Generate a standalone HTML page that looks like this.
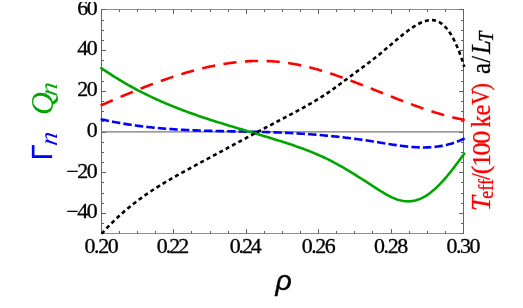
<!DOCTYPE html>
<html><head><meta charset="utf-8"><title>plot</title>
<style>
html,body{margin:0;padding:0;background:#fff;}
body{width:523px;height:308px;overflow:hidden;font-family:"Liberation Serif",serif;}
svg{display:block;will-change:transform}
.tk line{stroke:#606060;stroke-width:1}
.lab text{font-family:"Liberation Serif",serif;font-size:20.3px;letter-spacing:-1.3px;fill:#000;stroke:#000;stroke-width:0.3px}
</style></head><body>
<svg width="523" height="308" viewBox="0 0 523 308">
<rect width="523" height="308" fill="#fff"/>
<g stroke-width="1" fill="none"><path d="M101.0,9.5H464.0M101.0,233.5H464.0" stroke="#8c8c8c"/><path d="M101.5,9.0V234.0M463.5,9.0V234.0" stroke="#666666"/></g>
<g class="tk">
<line x1="101.5" y1="233.5" x2="101.5" y2="229.1"/>
<line x1="101.5" y1="9.5" x2="101.5" y2="13.9"/>
<line x1="119.5" y1="233.5" x2="119.5" y2="231.0"/>
<line x1="119.5" y1="9.5" x2="119.5" y2="12.0"/>
<line x1="137.5" y1="233.5" x2="137.5" y2="231.0"/>
<line x1="137.5" y1="9.5" x2="137.5" y2="12.0"/>
<line x1="155.5" y1="233.5" x2="155.5" y2="231.0"/>
<line x1="155.5" y1="9.5" x2="155.5" y2="12.0"/>
<line x1="173.5" y1="233.5" x2="173.5" y2="229.1"/>
<line x1="173.5" y1="9.5" x2="173.5" y2="13.9"/>
<line x1="191.5" y1="233.5" x2="191.5" y2="231.0"/>
<line x1="191.5" y1="9.5" x2="191.5" y2="12.0"/>
<line x1="210.5" y1="233.5" x2="210.5" y2="231.0"/>
<line x1="210.5" y1="9.5" x2="210.5" y2="12.0"/>
<line x1="228.5" y1="233.5" x2="228.5" y2="231.0"/>
<line x1="228.5" y1="9.5" x2="228.5" y2="12.0"/>
<line x1="246.5" y1="233.5" x2="246.5" y2="229.1"/>
<line x1="246.5" y1="9.5" x2="246.5" y2="13.9"/>
<line x1="264.5" y1="233.5" x2="264.5" y2="231.0"/>
<line x1="264.5" y1="9.5" x2="264.5" y2="12.0"/>
<line x1="282.5" y1="233.5" x2="282.5" y2="231.0"/>
<line x1="282.5" y1="9.5" x2="282.5" y2="12.0"/>
<line x1="300.5" y1="233.5" x2="300.5" y2="231.0"/>
<line x1="300.5" y1="9.5" x2="300.5" y2="12.0"/>
<line x1="318.5" y1="233.5" x2="318.5" y2="229.1"/>
<line x1="318.5" y1="9.5" x2="318.5" y2="13.9"/>
<line x1="336.5" y1="233.5" x2="336.5" y2="231.0"/>
<line x1="336.5" y1="9.5" x2="336.5" y2="12.0"/>
<line x1="354.5" y1="233.5" x2="354.5" y2="231.0"/>
<line x1="354.5" y1="9.5" x2="354.5" y2="12.0"/>
<line x1="372.5" y1="233.5" x2="372.5" y2="231.0"/>
<line x1="372.5" y1="9.5" x2="372.5" y2="12.0"/>
<line x1="391.5" y1="233.5" x2="391.5" y2="229.1"/>
<line x1="391.5" y1="9.5" x2="391.5" y2="13.9"/>
<line x1="409.5" y1="233.5" x2="409.5" y2="231.0"/>
<line x1="409.5" y1="9.5" x2="409.5" y2="12.0"/>
<line x1="427.5" y1="233.5" x2="427.5" y2="231.0"/>
<line x1="427.5" y1="9.5" x2="427.5" y2="12.0"/>
<line x1="445.5" y1="233.5" x2="445.5" y2="231.0"/>
<line x1="445.5" y1="9.5" x2="445.5" y2="12.0"/>
<line x1="463.5" y1="233.5" x2="463.5" y2="229.1"/>
<line x1="463.5" y1="9.5" x2="463.5" y2="13.9"/>
<line x1="101.5" y1="233.5" x2="104.0" y2="233.5"/>
<line x1="463.5" y1="233.5" x2="461.0" y2="233.5"/>
<line x1="101.5" y1="223.5" x2="104.0" y2="223.5"/>
<line x1="463.5" y1="223.5" x2="461.0" y2="223.5"/>
<line x1="101.5" y1="213.5" x2="105.9" y2="213.5"/>
<line x1="463.5" y1="213.5" x2="459.1" y2="213.5"/>
<line x1="101.5" y1="203.5" x2="104.0" y2="203.5"/>
<line x1="463.5" y1="203.5" x2="461.0" y2="203.5"/>
<line x1="101.5" y1="193.5" x2="104.0" y2="193.5"/>
<line x1="463.5" y1="193.5" x2="461.0" y2="193.5"/>
<line x1="101.5" y1="182.5" x2="104.0" y2="182.5"/>
<line x1="463.5" y1="182.5" x2="461.0" y2="182.5"/>
<line x1="101.5" y1="172.5" x2="105.9" y2="172.5"/>
<line x1="463.5" y1="172.5" x2="459.1" y2="172.5"/>
<line x1="101.5" y1="162.5" x2="104.0" y2="162.5"/>
<line x1="463.5" y1="162.5" x2="461.0" y2="162.5"/>
<line x1="101.5" y1="152.5" x2="104.0" y2="152.5"/>
<line x1="463.5" y1="152.5" x2="461.0" y2="152.5"/>
<line x1="101.5" y1="142.5" x2="104.0" y2="142.5"/>
<line x1="463.5" y1="142.5" x2="461.0" y2="142.5"/>
<line x1="101.5" y1="132.5" x2="105.9" y2="132.5"/>
<line x1="463.5" y1="132.5" x2="459.1" y2="132.5"/>
<line x1="101.5" y1="121.5" x2="104.0" y2="121.5"/>
<line x1="463.5" y1="121.5" x2="461.0" y2="121.5"/>
<line x1="101.5" y1="111.5" x2="104.0" y2="111.5"/>
<line x1="463.5" y1="111.5" x2="461.0" y2="111.5"/>
<line x1="101.5" y1="101.5" x2="104.0" y2="101.5"/>
<line x1="463.5" y1="101.5" x2="461.0" y2="101.5"/>
<line x1="101.5" y1="91.5" x2="105.9" y2="91.5"/>
<line x1="463.5" y1="91.5" x2="459.1" y2="91.5"/>
<line x1="101.5" y1="81.5" x2="104.0" y2="81.5"/>
<line x1="463.5" y1="81.5" x2="461.0" y2="81.5"/>
<line x1="101.5" y1="70.5" x2="104.0" y2="70.5"/>
<line x1="463.5" y1="70.5" x2="461.0" y2="70.5"/>
<line x1="101.5" y1="60.5" x2="104.0" y2="60.5"/>
<line x1="463.5" y1="60.5" x2="461.0" y2="60.5"/>
<line x1="101.5" y1="50.5" x2="105.9" y2="50.5"/>
<line x1="463.5" y1="50.5" x2="459.1" y2="50.5"/>
<line x1="101.5" y1="40.5" x2="104.0" y2="40.5"/>
<line x1="463.5" y1="40.5" x2="461.0" y2="40.5"/>
<line x1="101.5" y1="30.5" x2="104.0" y2="30.5"/>
<line x1="463.5" y1="30.5" x2="461.0" y2="30.5"/>
<line x1="101.5" y1="20.5" x2="104.0" y2="20.5"/>
<line x1="463.5" y1="20.5" x2="461.0" y2="20.5"/>
<line x1="101.5" y1="9.5" x2="105.9" y2="9.5"/>
<line x1="463.5" y1="9.5" x2="459.1" y2="9.5"/>
</g>
<line x1="101.5" y1="131.95999999999998" x2="463.4" y2="131.95999999999998" stroke="#777" stroke-width="1.25"/>
<g fill="none" stroke-linejoin="round">
<path d="M100.40,119.06 L101.92,119.41 L103.45,119.76 L104.97,120.10 L106.50,120.43 L108.02,120.75 L109.55,121.07 L111.07,121.38 L112.60,121.68 L114.12,121.98 L115.65,122.27 L117.17,122.56 L118.70,122.83 L120.22,123.11 L121.75,123.37 L123.27,123.63 L124.79,123.88 L126.32,124.13 L127.84,124.37 L129.37,124.61 L130.89,124.83 L132.42,125.06 L133.94,125.28 L135.47,125.49 L136.99,125.70 L138.52,125.90 L140.04,126.09 L141.57,126.29 L143.09,126.47 L144.62,126.65 L146.14,126.83 L147.67,127.00 L149.19,127.17 L150.71,127.33 L152.24,127.49 L153.76,127.64 L155.29,127.79 L156.81,127.93 L158.34,128.07 L159.86,128.21 L161.39,128.34 L162.91,128.47 L164.44,128.59 L165.96,128.71 L167.49,128.83 L169.01,128.94 L170.54,129.05 L172.06,129.15 L173.58,129.25 L175.11,129.35 L176.63,129.45 L178.16,129.54 L179.68,129.62 L181.21,129.71 L182.73,129.79 L184.26,129.87 L185.78,129.95 L187.31,130.02 L188.83,130.09 L190.36,130.16 L191.88,130.23 L193.41,130.29 L194.93,130.35 L196.46,130.41 L197.98,130.47 L199.50,130.52 L201.03,130.58 L202.55,130.63 L204.08,130.68 L205.60,130.72 L207.13,130.77 L208.65,130.81 L210.18,130.85 L211.70,130.90 L213.23,130.94 L214.75,130.97 L216.28,131.01 L217.80,131.05 L219.33,131.08 L220.85,131.12 L222.37,131.15 L223.90,131.18 L225.42,131.21 L226.95,131.24 L228.47,131.28 L230.00,131.31 L231.52,131.33 L233.05,131.36 L234.57,131.39 L236.10,131.42 L237.62,131.45 L239.15,131.48 L240.67,131.51 L242.20,131.54 L243.72,131.57 L245.25,131.60 L246.77,131.63 L248.29,131.66 L249.82,131.69 L251.34,131.72 L252.87,131.76 L254.39,131.79 L255.92,131.83 L257.44,131.86 L258.97,131.90 L260.49,131.94 L262.02,131.98 L263.54,132.02 L265.07,132.06 L266.59,132.10 L268.12,132.15 L269.64,132.19 L271.16,132.24 L272.69,132.29 L274.21,132.34 L275.74,132.40 L277.26,132.45 L278.79,132.51 L280.31,132.57 L281.84,132.64 L283.36,132.70 L284.89,132.77 L286.41,132.84 L287.94,132.91 L289.46,132.99 L290.99,133.07 L292.51,133.15 L294.04,133.23 L295.56,133.32 L297.08,133.40 L298.61,133.49 L300.13,133.59 L301.66,133.68 L303.18,133.78 L304.71,133.88 L306.23,133.99 L307.76,134.10 L309.28,134.20 L310.81,134.32 L312.33,134.43 L313.86,134.55 L315.38,134.67 L316.91,134.79 L318.43,134.92 L319.95,135.05 L321.48,135.18 L323.00,135.32 L324.53,135.45 L326.05,135.59 L327.58,135.74 L329.10,135.88 L330.63,136.03 L332.15,136.19 L333.68,136.34 L335.20,136.50 L336.73,136.66 L338.25,136.82 L339.78,136.99 L341.30,137.16 L342.83,137.34 L344.35,137.51 L345.87,137.69 L347.40,137.87 L348.92,138.06 L350.45,138.25 L351.97,138.44 L353.50,138.64 L355.02,138.84 L356.55,139.04 L358.07,139.24 L359.60,139.45 L361.12,139.66 L362.65,139.88 L364.17,140.09 L365.70,140.32 L367.22,140.54 L368.74,140.77 L370.27,141.00 L371.79,141.23 L373.32,141.47 L374.84,141.71 L376.37,141.96 L377.89,142.21 L379.42,142.46 L380.94,142.71 L382.47,142.96 L383.99,143.21 L385.52,143.46 L387.04,143.71 L388.57,143.96 L390.09,144.20 L391.62,144.44 L393.14,144.68 L394.66,144.91 L396.19,145.13 L397.71,145.35 L399.24,145.57 L400.76,145.77 L402.29,145.97 L403.81,146.16 L405.34,146.33 L406.86,146.50 L408.39,146.66 L409.91,146.80 L411.44,146.93 L412.96,147.05 L414.49,147.16 L416.01,147.25 L417.53,147.32 L419.06,147.38 L420.58,147.42 L422.11,147.44 L423.63,147.45 L425.16,147.44 L426.68,147.41 L428.21,147.35 L429.73,147.28 L431.26,147.19 L432.78,147.07 L434.31,146.93 L435.83,146.77 L437.36,146.58 L438.88,146.37 L440.41,146.13 L441.93,145.86 L443.45,145.57 L444.98,145.25 L446.50,144.90 L448.03,144.52 L449.55,144.11 L451.08,143.68 L452.60,143.21 L454.13,142.71 L455.65,142.17 L457.18,141.60 L458.70,141.00 L460.23,140.37 L461.75,139.69 L463.28,138.99 L464.80,138.24" stroke="#0000ff" stroke-width="2.6" stroke-dasharray="8.43 3.14" stroke-dashoffset="-0.3"/>
<path d="M100.40,67.39 L101.92,68.46 L103.45,69.52 L104.97,70.56 L106.50,71.59 L108.02,72.61 L109.55,73.62 L111.07,74.61 L112.60,75.59 L114.12,76.56 L115.65,77.52 L117.17,78.47 L118.70,79.40 L120.22,80.33 L121.75,81.24 L123.27,82.15 L124.79,83.04 L126.32,83.92 L127.84,84.79 L129.37,85.65 L130.89,86.50 L132.42,87.34 L133.94,88.17 L135.47,88.99 L136.99,89.79 L138.52,90.59 L140.04,91.38 L141.57,92.17 L143.09,92.94 L144.62,93.70 L146.14,94.45 L147.67,95.20 L149.19,95.93 L150.71,96.66 L152.24,97.38 L153.76,98.09 L155.29,98.79 L156.81,99.49 L158.34,100.17 L159.86,100.85 L161.39,101.52 L162.91,102.18 L164.44,102.84 L165.96,103.49 L167.49,104.13 L169.01,104.76 L170.54,105.39 L172.06,106.01 L173.58,106.63 L175.11,107.23 L176.63,107.83 L178.16,108.43 L179.68,109.02 L181.21,109.60 L182.73,110.18 L184.26,110.75 L185.78,111.32 L187.31,111.88 L188.83,112.43 L190.36,112.98 L191.88,113.53 L193.41,114.07 L194.93,114.60 L196.46,115.13 L197.98,115.66 L199.50,116.18 L201.03,116.70 L202.55,117.21 L204.08,117.72 L205.60,118.23 L207.13,118.73 L208.65,119.23 L210.18,119.72 L211.70,120.22 L213.23,120.70 L214.75,121.19 L216.28,121.67 L217.80,122.15 L219.33,122.63 L220.85,123.11 L222.37,123.58 L223.90,124.05 L225.42,124.52 L226.95,124.98 L228.47,125.45 L230.00,125.91 L231.52,126.37 L233.05,126.83 L234.57,127.29 L236.10,127.75 L237.62,128.20 L239.15,128.66 L240.67,129.11 L242.20,129.57 L243.72,130.02 L245.25,130.47 L246.77,130.93 L248.29,131.38 L249.82,131.83 L251.34,132.29 L252.87,132.74 L254.39,133.19 L255.92,133.65 L257.44,134.10 L258.97,134.56 L260.49,135.01 L262.02,135.47 L263.54,135.93 L265.07,136.39 L266.59,136.85 L268.12,137.32 L269.64,137.78 L271.16,138.25 L272.69,138.72 L274.21,139.19 L275.74,139.66 L277.26,140.14 L278.79,140.62 L280.31,141.10 L281.84,141.59 L283.36,142.07 L284.89,142.56 L286.41,143.06 L287.94,143.55 L289.46,144.06 L290.99,144.56 L292.51,145.08 L294.04,145.59 L295.56,146.12 L297.08,146.65 L298.61,147.18 L300.13,147.73 L301.66,148.28 L303.18,148.84 L304.71,149.40 L306.23,149.98 L307.76,150.56 L309.28,151.16 L310.81,151.76 L312.33,152.38 L313.86,153.00 L315.38,153.64 L316.91,154.29 L318.43,154.95 L319.95,155.62 L321.48,156.31 L323.00,157.00 L324.53,157.72 L326.05,158.44 L327.58,159.18 L329.10,159.94 L330.63,160.71 L332.15,161.49 L333.68,162.29 L335.20,163.10 L336.73,163.93 L338.25,164.77 L339.78,165.62 L341.30,166.48 L342.83,167.35 L344.35,168.24 L345.87,169.13 L347.40,170.03 L348.92,170.95 L350.45,171.87 L351.97,172.80 L353.50,173.73 L355.02,174.68 L356.55,175.63 L358.07,176.58 L359.60,177.54 L361.12,178.51 L362.65,179.48 L364.17,180.46 L365.70,181.44 L367.22,182.42 L368.74,183.40 L370.27,184.39 L371.79,185.37 L373.32,186.36 L374.84,187.35 L376.37,188.34 L377.89,189.32 L379.42,190.30 L380.94,191.26 L382.47,192.20 L383.99,193.12 L385.52,194.02 L387.04,194.88 L388.57,195.71 L390.09,196.49 L391.62,197.23 L393.14,197.92 L394.66,198.56 L396.19,199.14 L397.71,199.66 L399.24,200.11 L400.76,200.49 L402.29,200.81 L403.81,201.05 L405.34,201.22 L406.86,201.31 L408.39,201.33 L409.91,201.28 L411.44,201.15 L412.96,200.94 L414.49,200.65 L416.01,200.27 L417.53,199.82 L419.06,199.28 L420.58,198.66 L422.11,197.95 L423.63,197.16 L425.16,196.29 L426.68,195.34 L428.21,194.31 L429.73,193.20 L431.26,192.03 L432.78,190.78 L434.31,189.47 L435.83,188.09 L437.36,186.65 L438.88,185.15 L440.41,183.59 L441.93,181.97 L443.45,180.30 L444.98,178.58 L446.50,176.81 L448.03,175.00 L449.55,173.14 L451.08,171.24 L452.60,169.30 L454.13,167.33 L455.65,165.32 L457.18,163.29 L458.70,161.23 L460.23,159.14 L461.75,157.04 L463.28,154.91 L464.80,152.77" stroke="#00a600" stroke-width="2.6"/>
<path d="M100.40,105.64 L101.92,104.97 L103.45,104.30 L104.97,103.63 L106.50,102.96 L108.02,102.30 L109.55,101.64 L111.07,100.97 L112.60,100.31 L114.12,99.66 L115.65,99.00 L117.17,98.35 L118.70,97.70 L120.22,97.05 L121.75,96.40 L123.27,95.76 L124.79,95.12 L126.32,94.48 L127.84,93.84 L129.37,93.21 L130.89,92.58 L132.42,91.95 L133.94,91.33 L135.47,90.71 L136.99,90.09 L138.52,89.48 L140.04,88.87 L141.57,88.27 L143.09,87.67 L144.62,87.07 L146.14,86.48 L147.67,85.89 L149.19,85.30 L150.71,84.72 L152.24,84.14 L153.76,83.57 L155.29,83.01 L156.81,82.44 L158.34,81.89 L159.86,81.34 L161.39,80.79 L162.91,80.25 L164.44,79.71 L165.96,79.18 L167.49,78.65 L169.01,78.13 L170.54,77.62 L172.06,77.11 L173.58,76.61 L175.11,76.11 L176.63,75.62 L178.16,75.13 L179.68,74.65 L181.21,74.18 L182.73,73.72 L184.26,73.26 L185.78,72.81 L187.31,72.36 L188.83,71.92 L190.36,71.49 L191.88,71.07 L193.41,70.65 L194.93,70.24 L196.46,69.83 L197.98,69.44 L199.50,69.05 L201.03,68.67 L202.55,68.30 L204.08,67.94 L205.60,67.58 L207.13,67.23 L208.65,66.89 L210.18,66.56 L211.70,66.24 L213.23,65.92 L214.75,65.61 L216.28,65.32 L217.80,65.03 L219.33,64.75 L220.85,64.48 L222.37,64.21 L223.90,63.96 L225.42,63.72 L226.95,63.48 L228.47,63.26 L230.00,63.05 L231.52,62.84 L233.05,62.64 L234.57,62.46 L236.10,62.28 L237.62,62.12 L239.15,61.96 L240.67,61.82 L242.20,61.68 L243.72,61.56 L245.25,61.45 L246.77,61.34 L248.29,61.25 L249.82,61.17 L251.34,61.10 L252.87,61.04 L254.39,60.99 L255.92,60.96 L257.44,60.93 L258.97,60.92 L260.49,60.91 L262.02,60.92 L263.54,60.95 L265.07,60.98 L266.59,61.02 L268.12,61.08 L269.64,61.15 L271.16,61.23 L272.69,61.33 L274.21,61.43 L275.74,61.55 L277.26,61.69 L278.79,61.83 L280.31,61.99 L281.84,62.16 L283.36,62.34 L284.89,62.54 L286.41,62.75 L287.94,62.97 L289.46,63.21 L290.99,63.46 L292.51,63.72 L294.04,63.99 L295.56,64.27 L297.08,64.57 L298.61,64.87 L300.13,65.19 L301.66,65.52 L303.18,65.86 L304.71,66.21 L306.23,66.57 L307.76,66.94 L309.28,67.32 L310.81,67.71 L312.33,68.11 L313.86,68.52 L315.38,68.94 L316.91,69.36 L318.43,69.80 L319.95,70.24 L321.48,70.69 L323.00,71.15 L324.53,71.62 L326.05,72.09 L327.58,72.57 L329.10,73.06 L330.63,73.56 L332.15,74.06 L333.68,74.57 L335.20,75.09 L336.73,75.61 L338.25,76.14 L339.78,76.67 L341.30,77.21 L342.83,77.76 L344.35,78.31 L345.87,78.86 L347.40,79.42 L348.92,79.98 L350.45,80.55 L351.97,81.12 L353.50,81.70 L355.02,82.28 L356.55,82.86 L358.07,83.44 L359.60,84.03 L361.12,84.62 L362.65,85.22 L364.17,85.81 L365.70,86.41 L367.22,87.01 L368.74,87.62 L370.27,88.22 L371.79,88.82 L373.32,89.43 L374.84,90.04 L376.37,90.65 L377.89,91.25 L379.42,91.86 L380.94,92.47 L382.47,93.08 L383.99,93.69 L385.52,94.30 L387.04,94.90 L388.57,95.51 L390.09,96.11 L391.62,96.72 L393.14,97.32 L394.66,97.92 L396.19,98.52 L397.71,99.11 L399.24,99.70 L400.76,100.30 L402.29,100.88 L403.81,101.47 L405.34,102.05 L406.86,102.63 L408.39,103.20 L409.91,103.77 L411.44,104.34 L412.96,104.90 L414.49,105.46 L416.01,106.01 L417.53,106.56 L419.06,107.10 L420.58,107.64 L422.11,108.17 L423.63,108.69 L425.16,109.21 L426.68,109.73 L428.21,110.24 L429.73,110.74 L431.26,111.23 L432.78,111.72 L434.31,112.20 L435.83,112.67 L437.36,113.13 L438.88,113.59 L440.41,114.04 L441.93,114.48 L443.45,114.91 L444.98,115.33 L446.50,115.75 L448.03,116.15 L449.55,116.55 L451.08,116.94 L452.60,117.31 L454.13,117.68 L455.65,118.04 L457.18,118.38 L458.70,118.72 L460.23,119.04 L461.75,119.36 L463.28,119.66 L464.80,119.95" stroke="#ff0000" stroke-width="2.6" stroke-dasharray="13.2 8.45" stroke-dashoffset="-0.35"/>
<path d="M101.60,233.75 L103.12,232.07 L104.64,230.43 L106.15,228.81 L107.67,227.21 L109.19,225.65 L110.71,224.11 L112.22,222.59 L113.74,221.10 L115.26,219.64 L116.78,218.20 L118.29,216.79 L119.81,215.39 L121.33,214.02 L122.85,212.68 L124.36,211.35 L125.88,210.05 L127.40,208.77 L128.92,207.51 L130.43,206.27 L131.95,205.05 L133.47,203.84 L134.99,202.66 L136.50,201.50 L138.02,200.35 L139.54,199.22 L141.06,198.11 L142.57,197.01 L144.09,195.93 L145.61,194.86 L147.13,193.81 L148.64,192.78 L150.16,191.75 L151.68,190.74 L153.20,189.75 L154.72,188.77 L156.23,187.79 L157.75,186.83 L159.27,185.89 L160.79,184.95 L162.30,184.02 L163.82,183.10 L165.34,182.20 L166.86,181.30 L168.37,180.40 L169.89,179.52 L171.41,178.64 L172.93,177.77 L174.44,176.91 L175.96,176.05 L177.48,175.20 L179.00,174.36 L180.51,173.51 L182.03,172.68 L183.55,171.84 L185.07,171.01 L186.58,170.18 L188.10,169.35 L189.62,168.53 L191.14,167.70 L192.65,166.88 L194.17,166.06 L195.69,165.23 L197.21,164.41 L198.72,163.59 L200.24,162.77 L201.76,161.94 L203.28,161.12 L204.79,160.30 L206.31,159.48 L207.83,158.66 L209.35,157.84 L210.87,157.02 L212.38,156.20 L213.90,155.38 L215.42,154.56 L216.94,153.74 L218.45,152.92 L219.97,152.10 L221.49,151.28 L223.01,150.47 L224.52,149.65 L226.04,148.83 L227.56,148.02 L229.08,147.20 L230.59,146.38 L232.11,145.57 L233.63,144.75 L235.15,143.94 L236.66,143.12 L238.18,142.31 L239.70,141.50 L241.22,140.68 L242.73,139.87 L244.25,139.06 L245.77,138.25 L247.29,137.44 L248.80,136.63 L250.32,135.82 L251.84,135.01 L253.36,134.20 L254.87,133.39 L256.39,132.58 L257.91,131.77 L259.43,130.97 L260.95,130.16 L262.46,129.35 L263.98,128.55 L265.50,127.74 L267.02,126.94 L268.53,126.13 L270.05,125.33 L271.57,124.53 L273.09,123.73 L274.60,122.92 L276.12,122.12 L277.64,121.32 L279.16,120.52 L280.67,119.72 L282.19,118.93 L283.71,118.13 L285.23,117.33 L286.74,116.53 L288.26,115.74 L289.78,114.94 L291.30,114.14 L292.81,113.33 L294.33,112.53 L295.85,111.72 L297.37,110.90 L298.88,110.09 L300.40,109.26 L301.92,108.43 L303.44,107.60 L304.95,106.76 L306.47,105.91 L307.99,105.05 L309.51,104.18 L311.03,103.30 L312.54,102.42 L314.06,101.52 L315.58,100.61 L317.10,99.69 L318.61,98.76 L320.13,97.81 L321.65,96.86 L323.17,95.88 L324.68,94.90 L326.20,93.89 L327.72,92.87 L329.24,91.84 L330.75,90.79 L332.27,89.72 L333.79,88.64 L335.31,87.55 L336.82,86.44 L338.34,85.33 L339.86,84.21 L341.38,83.08 L342.89,81.95 L344.41,80.81 L345.93,79.67 L347.45,78.54 L348.96,77.40 L350.48,76.27 L352.00,75.14 L353.52,74.02 L355.03,72.90 L356.55,71.79 L358.07,70.67 L359.59,69.56 L361.11,68.45 L362.62,67.33 L364.14,66.21 L365.66,65.08 L367.18,63.94 L368.69,62.80 L370.21,61.65 L371.73,60.48 L373.25,59.30 L374.76,58.10 L376.28,56.89 L377.80,55.67 L379.32,54.43 L380.83,53.18 L382.35,51.92 L383.87,50.64 L385.39,49.37 L386.90,48.08 L388.42,46.80 L389.94,45.51 L391.46,44.22 L392.97,42.93 L394.49,41.64 L396.01,40.36 L397.53,39.08 L399.04,37.81 L400.56,36.55 L402.08,35.30 L403.60,34.08 L405.11,32.87 L406.63,31.70 L408.15,30.55 L409.67,29.44 L411.18,28.37 L412.70,27.34 L414.22,26.36 L415.74,25.43 L417.26,24.55 L418.77,23.74 L420.29,22.98 L421.81,22.30 L423.33,21.69 L424.84,21.16 L426.36,20.73 L427.88,20.40 L429.40,20.18 L430.91,20.09 L432.43,20.12 L433.95,20.29 L435.47,20.62 L436.98,21.09 L438.50,21.74 L440.02,22.56 L441.54,23.56 L443.05,24.76 L444.57,26.16 L446.09,27.77 L447.61,29.60 L449.12,31.66 L450.64,33.95 L452.16,36.50 L453.68,39.30 L455.19,42.37 L456.71,45.71 L458.23,49.33 L459.75,53.25 L461.26,57.47 L462.78,62.00 L464.30,66.85" stroke="#000" stroke-width="2.6" stroke-dasharray="4.0 3.2"/>
</g>
<g class="lab">
<text transform="translate(100.90,252.7) scale(1.08,1)" text-anchor="middle" style="letter-spacing:-1.30px">0.20</text>
<text transform="translate(171.98,252.7) scale(1.08,1)" text-anchor="middle" style="letter-spacing:-1.85px">0.22</text>
<text transform="translate(244.71,252.7) scale(1.08,1)" text-anchor="middle" style="letter-spacing:-1.95px">0.24</text>
<text transform="translate(318.04,252.7) scale(1.08,1)" text-anchor="middle" style="letter-spacing:-1.30px">0.26</text>
<text transform="translate(390.42,252.7) scale(1.08,1)" text-anchor="middle" style="letter-spacing:-1.30px">0.28</text>
<text transform="translate(462.80,252.7) scale(1.08,1)" text-anchor="middle" style="letter-spacing:-1.30px">0.30</text>
<text transform="translate(96.3,14.55) scale(1.08,1)" text-anchor="end">60</text>
<text transform="translate(96.3,55.29) scale(1.08,1)" text-anchor="end">40</text>
<text transform="translate(96.3,96.02) scale(1.08,1)" text-anchor="end">20</text>
<text transform="translate(96.3,136.76) scale(1.08,1)" text-anchor="end">0</text>
<text transform="translate(96.3,177.50) scale(1.08,1)" text-anchor="end">−20</text>
<text transform="translate(96.3,218.23) scale(1.08,1)" text-anchor="end">−40</text>
</g>
<text x="283.6" y="290.2" text-anchor="middle" font-family="Liberation Sans, sans-serif" font-style="italic" font-size="28.4" stroke="#000" stroke-width="0.45">ρ</text>
<text transform="translate(52.3,160.3) rotate(-90) scale(1.0,1) skewX(0)" font-family="Liberation Sans, sans-serif" font-size="28.7" fill="#0000ff" stroke="#0000ff" stroke-width="0.3">Γ</text>
<text transform="translate(56.8,146.2) rotate(-90) scale(1.06,1) skewX(-8)" font-family="Liberation Serif, serif" font-style="italic" font-size="25" fill="#0000ff">n</text>
<text transform="translate(52.7,115.0) rotate(-90) scale(1.0,1) skewX(0)" font-family="Liberation Serif, serif" font-style="italic" font-size="31.8" fill="#00a600">Q</text>
<text transform="translate(57.0,96.8) rotate(-90) scale(1.06,1) skewX(-8)" font-family="Liberation Serif, serif" font-style="italic" font-size="25" fill="#00a600">n</text>
<text transform="translate(489.8,210.9) rotate(-90) scale(0.98,1)" font-family="Liberation Serif, serif" font-size="27.5" font-style="italic" fill="#ff0000" stroke="#ff0000" stroke-width="0.3" letter-spacing="0">T</text>
<text transform="translate(492.6,198.7) rotate(-90) scale(0.88,1)" font-family="Liberation Serif, serif" font-size="20.4" fill="#ff0000" stroke="#ff0000" stroke-width="0.3" letter-spacing="0">eff</text>
<text transform="translate(489.7,179.9) rotate(-90) scale(0.88,1)" font-family="Liberation Serif, serif" font-size="28" fill="#ff0000" stroke="#ff0000" stroke-width="0.3" letter-spacing="0">/</text>
<text transform="translate(488.9,174.2) rotate(-90) scale(1.0,1)" font-family="Liberation Serif, serif" font-size="26" fill="#ff0000" stroke="#ff0000" stroke-width="0.3" letter-spacing="0">(</text>
<text transform="translate(489.65,166.8) rotate(-90) scale(1.0,1)" font-family="Liberation Serif, serif" font-size="26" fill="#ff0000" stroke="#ff0000" stroke-width="0.3" letter-spacing="0">1</text>
<text transform="translate(489.65,155.55) rotate(-90) scale(1.0,1)" font-family="Liberation Serif, serif" font-size="26" fill="#ff0000" stroke="#ff0000" stroke-width="0.3" letter-spacing="0">0</text>
<text transform="translate(489.65,143.85) rotate(-90) scale(1.0,1)" font-family="Liberation Serif, serif" font-size="26" fill="#ff0000" stroke="#ff0000" stroke-width="0.3" letter-spacing="0">0</text>
<text transform="translate(489.9,127.4) rotate(-90) scale(0.88,1)" font-family="Liberation Serif, serif" font-size="28" fill="#ff0000" stroke="#ff0000" stroke-width="0.3" letter-spacing="0">k</text>
<text transform="translate(489.7,115.5) rotate(-90) scale(0.88,1)" font-family="Liberation Serif, serif" font-size="28" fill="#ff0000" stroke="#ff0000" stroke-width="0.3" letter-spacing="0">e</text>
<text transform="translate(488.7,104.75) rotate(-90) scale(0.83,1)" font-family="Liberation Serif, serif" font-size="26" fill="#ff0000" stroke="#ff0000" stroke-width="0.3" letter-spacing="0">V</text>
<text transform="translate(488.9,90.5) rotate(-90) scale(0.85,1)" font-family="Liberation Serif, serif" font-size="26" fill="#ff0000" stroke="#ff0000" stroke-width="0.3" letter-spacing="0">)</text>
<text transform="translate(489.8,73.95) rotate(-90) scale(0.88,1)" font-family="Liberation Serif, serif" font-size="28" fill="#000" stroke="#000" stroke-width="0.3" letter-spacing="0">a</text>
<text transform="translate(489.8,62.8) rotate(-90) scale(0.88,1)" font-family="Liberation Serif, serif" font-size="28" fill="#000" stroke="#000" stroke-width="0.3" letter-spacing="0">/</text>
<text transform="translate(490.2,54.1) rotate(-90) scale(0.9,1)" font-family="Liberation Serif, serif" font-size="27.6" font-style="italic" fill="#000" stroke="#000" stroke-width="0.3" letter-spacing="0">L</text>
<text transform="translate(492.6,41.8) rotate(-90) scale(0.9,1)" font-family="Liberation Serif, serif" font-size="20.5" font-style="italic" fill="#000" stroke="#000" stroke-width="0.3" letter-spacing="0">T</text>
<rect x="0" y="0" width="523" height="2.05" fill="#fff"/>
</svg>
</body></html>
